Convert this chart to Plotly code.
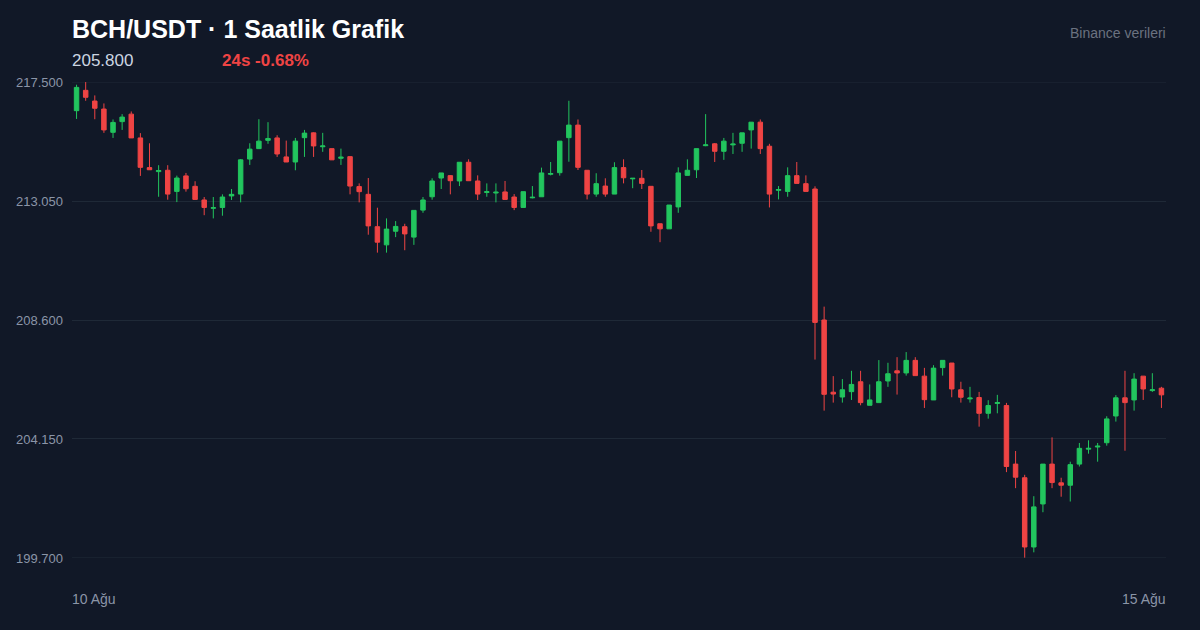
import plotly.graph_objects as go

opens = [216.43, 217.19, 216.79, 216.49, 215.62, 216.02, 216.30, 215.41, 214.30, 214.15,
         214.20, 213.41, 213.99, 213.60, 213.09, 212.78, 212.81, 213.24, 213.31, 214.62,
         215.01, 215.32, 215.41, 214.70, 214.51, 215.42, 215.60, 215.08, 215.01, 214.65,
         214.71, 213.59, 213.30, 212.09, 211.41, 211.92, 212.09, 211.70, 212.71, 213.21,
         213.91, 214.00, 213.80, 214.50, 213.80, 213.37, 213.35, 213.39, 213.20, 212.81,
         213.17, 213.21, 214.05, 214.11, 215.42, 215.89, 214.20, 213.31, 213.61, 213.31,
         214.30, 213.88, 213.90, 213.60, 212.20, 212.01, 212.83, 214.01, 214.22, 215.12,
         215.19, 214.91, 215.15, 215.21, 215.71, 216.00, 215.10, 213.45, 213.41, 214.00,
         213.70, 213.50, 208.60, 205.90, 205.72, 205.92, 206.29, 205.41, 205.51, 206.32,
         206.70, 206.62, 207.09, 206.50, 205.61, 206.82, 206.99, 205.99, 205.65, 205.70,
         205.11, 205.48, 205.40, 203.21, 202.70, 200.11, 201.72, 203.21, 202.51, 202.42,
         203.21, 203.77, 203.85, 204.01, 205.01, 205.69, 205.61, 206.50, 205.96, 206.05]
highs = [217.40, 217.50, 217.00, 216.70, 216.10, 216.30, 216.40, 215.59, 215.21, 214.39,
         214.39, 214.00, 214.10, 213.79, 213.20, 213.20, 213.30, 213.50, 214.62, 215.21,
         216.11, 216.00, 215.51, 215.31, 215.41, 215.71, 215.62, 215.60, 215.01, 215.01,
         214.72, 213.71, 213.91, 212.80, 212.40, 212.30, 212.20, 212.70, 213.20, 213.90,
         214.10, 214.02, 214.50, 214.61, 214.01, 213.71, 213.71, 213.80, 213.31, 213.40,
         213.61, 214.30, 214.51, 215.29, 216.80, 216.10, 214.20, 214.09, 213.90, 214.50,
         214.61, 213.91, 214.21, 213.60, 212.20, 212.90, 214.31, 214.61, 215.01, 216.30,
         215.22, 215.41, 215.60, 215.60, 216.00, 216.10, 215.19, 213.61, 214.31, 214.51,
         214.01, 213.60, 209.10, 206.50, 206.39, 206.70, 206.70, 206.19, 207.10, 207.00,
         207.21, 207.40, 207.21, 206.81, 206.91, 207.09, 206.99, 206.29, 206.10, 205.91,
         205.60, 205.80, 205.50, 203.70, 202.81, 202.01, 203.21, 204.21, 202.70, 203.30,
         204.00, 204.10, 204.00, 205.00, 205.79, 206.70, 206.61, 206.50, 206.61, 206.10]
lows = [216.12, 216.80, 216.11, 215.60, 215.41, 215.71, 215.41, 213.99, 214.22, 213.21,
        213.10, 213.01, 213.40, 213.10, 212.52, 212.40, 212.50, 213.09, 213.00, 214.40,
        215.01, 215.19, 214.70, 214.51, 214.20, 214.70, 214.70, 214.89, 214.59, 214.40,
        213.30, 213.00, 211.79, 211.12, 211.12, 211.70, 211.21, 211.41, 212.61, 213.10,
        213.50, 213.30, 213.61, 213.81, 213.09, 213.21, 213.00, 213.11, 212.71, 212.81,
        213.15, 213.21, 214.01, 214.00, 214.52, 214.21, 213.11, 213.21, 213.21, 213.31,
        213.71, 213.53, 213.50, 211.90, 211.51, 212.01, 212.61, 214.01, 213.91, 215.10,
        214.51, 214.59, 214.81, 214.89, 215.01, 214.81, 212.81, 213.11, 213.21, 213.71,
        213.41, 207.12, 205.21, 205.51, 205.51, 205.61, 205.41, 205.41, 205.51, 206.10,
        205.81, 206.52, 206.52, 205.31, 205.61, 206.52, 205.71, 205.51, 205.51, 204.61,
        204.91, 205.11, 202.91, 202.31, 199.71, 199.91, 201.41, 202.31, 201.99, 201.81,
        203.12, 203.60, 203.30, 203.90, 204.80, 203.71, 205.21, 205.61, 205.91, 205.31]
closes = [217.30, 216.93, 216.52, 215.71, 215.99, 216.19, 215.41, 214.31, 214.22, 214.19,
          213.31, 213.91, 213.51, 213.11, 212.81, 212.80, 213.20, 213.30, 214.59, 214.99,
          215.29, 215.39, 214.81, 214.51, 215.29, 215.59, 215.11, 215.11, 214.59, 214.69,
          213.61, 213.40, 212.12, 211.51, 212.00, 212.10, 211.82, 212.70, 213.09, 213.80,
          214.10, 213.81, 214.50, 213.81, 213.31, 213.40, 213.38, 213.11, 212.81, 213.40,
          213.19, 214.10, 214.08, 215.29, 215.89, 214.31, 213.31, 213.70, 213.31, 214.30,
          213.92, 213.90, 213.71, 212.12, 212.01, 212.90, 214.10, 214.20, 215.01, 215.15,
          214.91, 215.29, 215.18, 215.60, 216.00, 215.01, 213.31, 213.48, 214.00, 213.71,
          213.41, 208.51, 205.82, 205.83, 205.99, 206.19, 205.51, 205.61, 206.29, 206.59,
          206.62, 207.09, 206.52, 205.62, 206.80, 207.09, 206.02, 205.71, 205.68, 205.11,
          205.40, 205.51, 203.12, 202.72, 200.11, 201.61, 203.21, 202.52, 202.42, 203.19,
          203.80, 203.80, 203.88, 204.90, 205.69, 205.51, 206.39, 206.02, 205.99, 205.80]

hours = list(range(len(opens)))
y_ticks = [199.7, 204.15, 208.6, 213.05, 217.5]
x_labels = ["10 Ağu", "15 Ağu"]
title_text = "BCH/USDT · 1 Saatlik Grafik"
last_price = "205.800"
change_text = "24s -0.68%"
source_text = "Binance verileri"

BG = "#111827"
GRID = "#1f2937"
GREEN = "#22c55e"
RED = "#ef4444"
FONT = "Liberation Sans, Arial, sans-serif"

fig = go.Figure(go.Candlestick(
    x=hours, open=opens, high=highs, low=lows, close=closes,
    increasing=dict(line=dict(color=GREEN, width=1), fillcolor=GREEN),
    decreasing=dict(line=dict(color=RED, width=1), fillcolor=RED),
    whiskerwidth=0, hoverinfo="skip",
))

eps = 0.002
fig.update_layout(
    width=1200, height=630,
    paper_bgcolor=BG, plot_bgcolor=BG,
    margin=dict(l=72, r=34, t=82, b=72),
    showlegend=False,
    font=dict(family=FONT),
    xaxis=dict(range=[-0.5, len(opens) - 0.5], showgrid=False, showticklabels=False,
               zeroline=False, rangeslider=dict(visible=False), fixedrange=True),
    yaxis=dict(range=[y_ticks[0] - eps, y_ticks[-1] + eps], tickvals=y_ticks, tickformat=".3f",
               gridcolor=GRID, gridwidth=1, zeroline=False, showline=False,
               tickfont=dict(size=13, color="#8b95a7", family=FONT), ticks="",
               ticklabelstandoff=8, fixedrange=True),
)

# edge gridlines (plotly drops gridlines at the exact range ends)
for v in (y_ticks[0], y_ticks[-1]):
    fig.add_shape(type="line", xref="paper", x0=0, x1=1, yref="y", y0=v, y1=v,
                  line=dict(color=GRID, width=1), layer="below")

ann = [
    dict(text=f"<b>{title_text}</b>", x=0, y=1.1113, xanchor="left", yanchor="middle",
         xshift=-2, font=dict(size=25, color="#ffffff")),
    dict(text=last_price, x=0, y=1.0462, xanchor="left", yanchor="middle",
         xshift=-2, font=dict(size=17, color="#cbd5e1")),
    dict(text=f"<b>{change_text}</b>", x=(222 - 72) / 1094, y=1.0462, xanchor="left",
         yanchor="middle", xshift=-2, font=dict(size=17, color=RED)),
    dict(text=source_text, x=1, y=1.1029, xanchor="right", yanchor="middle",
         xshift=2, font=dict(size=14, color="#6b7280")),
    dict(text=x_labels[0], x=0, y=-0.0861, xanchor="left", yanchor="middle",
         xshift=-2, font=dict(size=14, color="#8b95a7")),
    dict(text=x_labels[1], x=1, y=-0.0861, xanchor="right", yanchor="middle",
         xshift=2, font=dict(size=14, color="#8b95a7")),
]
for a in ann:
    a.update(xref="paper", yref="paper", showarrow=False)
fig.update_layout(annotations=ann)

fig.write_html("out.html", config={"displayModeBar": False},
               post_script="document.body.style.margin='0';document.body.style.background='#111827';")
